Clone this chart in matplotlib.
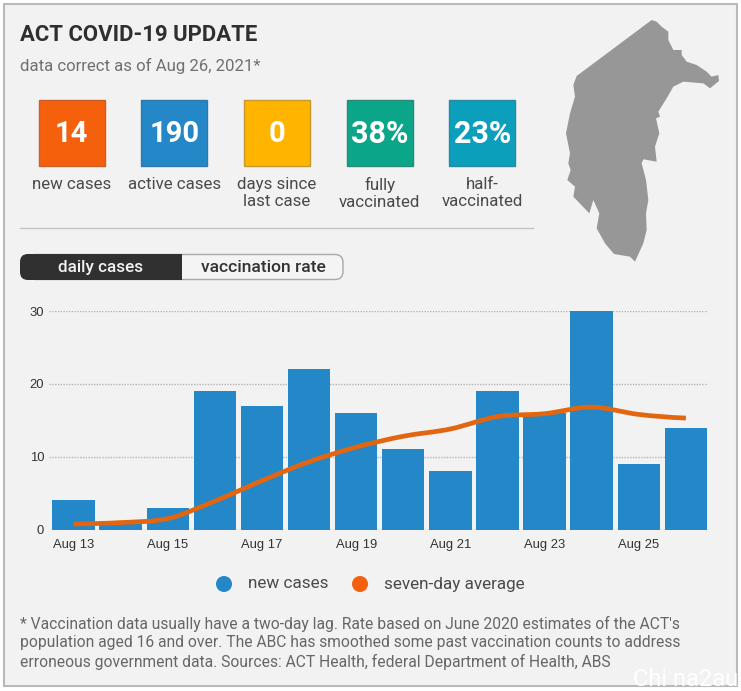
import matplotlib.pyplot as plt
from matplotlib.patches import Rectangle, FancyBboxPatch, Polygon, PathPatch, Circle
from matplotlib.path import Path

plt.rcParams['font.family'] = ['Roboto', 'DejaVu Sans']

# data
days = ['Aug 13', 'Aug 14', 'Aug 15', 'Aug 16', 'Aug 17', 'Aug 18', 'Aug 19',
        'Aug 20', 'Aug 21', 'Aug 22', 'Aug 23', 'Aug 24', 'Aug 25', 'Aug 26']
new_cases = [4, 1, 3, 19, 17, 22, 16, 11, 8, 19, 16, 30, 9, 14]
seven_day = [0.75, 0.95, 1.5, 3.9, 6.7, 9.3, 11.3, 12.8, 13.8, 15.5, 15.9, 16.8, 15.8, 15.3]

stat_values = ['14', '190', '0', '38%', '23%']
stat_labels = ['new cases', 'active cases', 'days since\nlast case', 'fully\nvaccinated', 'half-\nvaccinated']
stat_colors = ['#f4600c', '#2387c8', '#ffb400', '#0ba58a', '#0c9fbb']
stat_edges = ['#c8602a', '#2f78a8', '#c49a2a', '#2a8a78', '#2a8a9f']

footnote = ("* Vaccination data usually have a two-day lag. Rate based on June 2020 estimates of the ACT's\n"
            "population aged 16 and over. The ABC has smoothed some past vaccination counts to address\n"
            "erroneous government data. Sources: ACT Health, federal Department of Health, ABS")

# ACT outline
map_x = [335, 350, 365, 385, 385, 400, 425, 425, 440, 470, 500, 515, 535, 537, 510, 490, 430, 400, 380, 355,
         360, 348, 358, 345, 350, 310, 305, 318, 325, 318, 320, 310, 285, 270, 222, 195, 170, 178, 160, 148,
         100, 105, 82, 92, 85, 90, 78, 90, 105, 100, 110]
map_y = [60, 65, 80, 95, 120, 150, 150, 165, 185, 195, 215, 230, 225, 243, 265, 250, 245, 260, 295, 335,
         350, 355, 400, 440, 485, 478, 490, 540, 600, 640, 690, 730, 785, 770, 762, 730, 685, 640, 600, 640,
         590, 560, 540, 510, 490, 460, 400, 340, 290, 255, 228]

BG = '#f2f2f3'
BLUE = '#2387c8'
ORANGE = '#e2650f'
DARK = '#2f2f2f'
GREY = '#666666'

fig = plt.figure(figsize=(7.41, 6.91), dpi=100, facecolor='white')

# page layer, in pixels
page = fig.add_axes([0, 0, 1, 1])
page.set_xlim(0, 741)
page.set_ylim(691, 0)
page.axis('off')

page.add_patch(Rectangle((3.5, 3.5), 733, 682, facecolor=BG, edgecolor='#b9b9b9', linewidth=1.5))

page.text(20, 35, 'ACT COVID-19 UPDATE', fontsize=15.9, fontweight='bold', color=DARK, va='center')
page.text(20, 66, 'data correct as of Aug 26, 2021*', fontsize=12.1, color='#707070', va='center')

map_pts = [(540 + x / 3, y / 3) for x, y in zip(map_x, map_y)]
page.add_patch(Polygon(map_pts, closed=True, facecolor='#979798', edgecolor='none'))

for i, (val, lab, col, edge) in enumerate(zip(stat_values, stat_labels, stat_colors, stat_edges)):
    left = 38.5 + i * 102.7
    page.add_patch(Rectangle((left, 99.5), 66, 66, facecolor=col, edgecolor=edge, linewidth=1))
    size = 22 if '%' in val else 21
    page.text(left + 33, 133.5, val, fontsize=size, fontweight='bold', color='white', ha='center', va='center')
    page.text(left + 33, 176.5, lab, fontsize=12.2, color='#4a4a4a', ha='center', va='top', linespacing=1.22)

page.plot([20, 533], [228, 228], color='#c4c4c4', linewidth=1)

# toggle
page.add_patch(FancyBboxPatch((28, 254.5), 315, 25, boxstyle='round,pad=0,rounding_size=8',
                              facecolor='#f4f4f4', edgecolor='#a8a8a8', linewidth=1))
page.add_patch(FancyBboxPatch((20, 254), 161, 26, boxstyle='round,pad=0,rounding_size=8',
                              facecolor='#303030', edgecolor='none'))
page.add_patch(Rectangle((165, 254), 17, 26, facecolor='#303030', edgecolor='none'))
page.text(101, 267, 'daily cases', fontsize=12.3, fontweight='medium', color='#f2f2f2', ha='center', va='center')
page.text(263.5, 267, 'vaccination rate', fontsize=12.6, fontweight='medium', color='#333333', ha='center', va='center')

# legend
page.add_patch(Circle((224, 584), 8, facecolor=BLUE, edgecolor='none'))
page.text(248, 584, 'new cases', fontsize=12.3, color='#4a4a4a', va='center')
page.add_patch(Circle((360, 584), 8, facecolor='#f4600c', edgecolor='none'))
page.text(384, 584, 'seven-day average', fontsize=12.3, color='#4a4a4a', va='center')

page.text(20, 643, footnote, fontsize=11.27, color=GREY, va='center', linespacing=1.25)
page.text(738, 679, 'Chi na2au', fontsize=17, color='white', ha='right', va='center')

# chart layer
ax = fig.add_axes([49 / 741, 1 - 529.5 / 691, (708 - 49) / 741, (529.5 - 311) / 691])
ax.patch.set_alpha(0)
ax.set_xlim(-0.52, 13.47)
ax.set_ylim(0, 30)

xs = list(range(len(days)))
ax.bar(xs, new_cases, width=0.9, color=BLUE, zorder=2)

# smooth line through the averages (catmull-rom segments)
verts = [(xs[0], seven_day[0])]
codes = [Path.MOVETO]
for i in range(len(xs) - 1):
    y0 = seven_day[max(i - 1, 0)]
    y1 = seven_day[i]
    y2 = seven_day[i + 1]
    y3 = seven_day[min(i + 2, len(xs) - 1)]
    verts += [(xs[i] + 1 / 3, y1 + (y2 - y0) / 6), (xs[i + 1] - 1 / 3, y2 - (y3 - y1) / 6), (xs[i + 1], y2)]
    codes += [Path.CURVE4] * 3
ax.add_patch(PathPatch(Path(verts, codes), facecolor='none', edgecolor=ORANGE, linewidth=3.4,
                       capstyle='butt', zorder=3))

ax.set_yticks([0, 10, 20, 30])
ax.set_xticks(xs[::2])
ax.set_xticklabels(days[::2])
ax.grid(axis='y', color='#b4b4b4', linestyle=(0, (1, 1)), linewidth=1, zorder=1)
ax.set_axisbelow(True)
for s in ax.spines.values():
    s.set_visible(False)
ax.tick_params(axis='both', length=0, labelsize=9.4, labelcolor='#333333')
ax.tick_params(axis='x', pad=7)
ax.tick_params(axis='y', pad=3.5)
for lab in ax.get_xticklabels() + ax.get_yticklabels():
    lab.set_fontfamily('Liberation Sans')

fig.savefig('out.png', dpi=100)
